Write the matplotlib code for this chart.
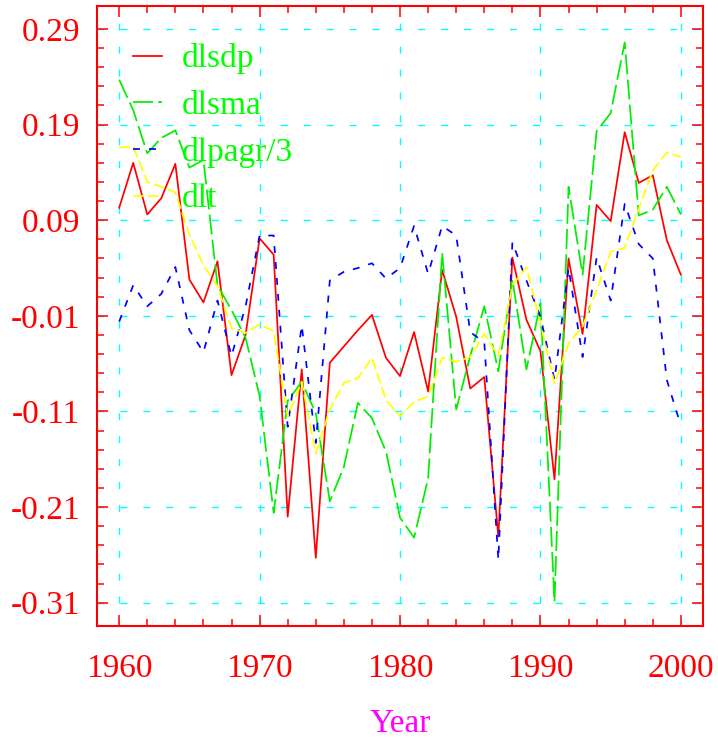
import numpy as np
import matplotlib
matplotlib.use("Agg")
import matplotlib.pyplot as plt
from matplotlib.ticker import FixedLocator

# data
years = np.arange(1960, 2001)

dlsdp = [0.103, 0.150, 0.096, 0.113, 0.149, 0.028, 0.004, 0.047, -0.072, -0.030,
         0.071, 0.054, -0.220, -0.066, -0.263, -0.059, -0.042, -0.025, -0.009, -0.054,
         -0.073, -0.027, -0.089, 0.038, -0.011, -0.086, -0.074, -0.241, 0.051, -0.014,
         -0.047, -0.181, 0.050, -0.029, 0.106, 0.089, 0.182, 0.129, 0.137, 0.069,
         0.033]

dlsma = [0.237, 0.205, 0.160, 0.176, 0.184, 0.145, 0.153, 0.022, -0.004, -0.033,
         -0.094, -0.216, -0.099, -0.079, -0.112, -0.204, -0.168, -0.101, -0.117, -0.152,
         -0.221, -0.242, -0.180, 0.056, -0.108, -0.052, 0.000, -0.068, 0.028, -0.066,
         0.003, -0.309, 0.125, 0.033, 0.183, 0.202, 0.276, 0.095, 0.101, 0.125,
         0.096]

dlpagr3 = [-0.016, 0.022, 0.000, 0.013, 0.041, -0.025, -0.048, 0.006, -0.052, 0.000,
           0.074, 0.074, -0.126, -0.020, -0.143, 0.027, 0.036, 0.040, 0.045, 0.029,
           0.040, 0.084, 0.034, 0.084, 0.074, -0.027, -0.038, -0.265, 0.067, 0.027,
           -0.011, -0.077, 0.040, -0.053, 0.051, 0.006, 0.107, 0.065, 0.050, -0.077,
           -0.125]

dlt = [0.166, 0.167, 0.130, 0.125, 0.119, 0.075, 0.043, 0.021, -0.023, -0.028,
       -0.019, -0.026, -0.115, -0.079, -0.154, -0.108, -0.080, -0.075, -0.054, -0.098,
       -0.115, -0.100, -0.094, -0.054, -0.058, -0.053, -0.029, -0.052, 0.022, 0.041,
       -0.018, -0.081, -0.039, -0.021, 0.017, 0.057, 0.061, 0.102, 0.142, 0.161,
       0.156]

xticks = [1960, 1970, 1980, 1990, 2000]
yticks = [-0.31, -0.21, -0.11, -0.01, 0.09, 0.19, 0.29]

plt.rcParams['font.family'] = ['Liberation Serif', 'DejaVu Serif']

fig = plt.figure(figsize=(7.18, 7.40), dpi=100)
ax = fig.add_axes([0.1347, 0.1545, 0.8449, 0.8374])

lw = 1.25
ax.plot(years, dlsdp, color='#ff0000', lw=lw, label='dlsdp')
ax.plot(years, dlsma, color='#00ee00', lw=lw, linestyle=(0, (11.5, 3)), label='dlsma')
ax.plot(years, dlpagr3, color='#0000ff', lw=lw, linestyle=(0, (4, 5.2)), label='dlpagr/3')
ax.plot(years, dlt, color='#ffff00', lw=lw, linestyle=(0, (6.2, 2.3)), label='dlt')

ax.set_xlim(1958.4, 2001.6)
ax.set_ylim(-0.334, 0.314)

ax.set_xticks(xticks)
ax.set_xticklabels([str(v) for v in xticks])
ax.set_yticks(yticks)
ax.set_yticklabels(['%.2f' % v for v in yticks])
ax.xaxis.set_minor_locator(FixedLocator(np.arange(1960, 2001, 2)))
ax.yaxis.set_minor_locator(FixedLocator(np.round(np.arange(-0.31, 0.30, 0.02), 2)))

ax.grid(True, which='major', color='#00ffff', linestyle=(0, (5, 11.5)), linewidth=1.0)

for sp in ax.spines.values():
    sp.set_color('#ff0000')
    sp.set_linewidth(1.5)

ax.tick_params(which='both', direction='in', top=True, right=True,
               color='#ff0000', width=1.1, labelcolor='#ff0000', labelsize=24)
ax.tick_params(which='major', length=8)
ax.tick_params(which='minor', length=5)
ax.tick_params(axis='x', which='major', pad=20)
ax.tick_params(axis='y', which='major', pad=12)

ax.set_xlabel('Year', color='#ff00ff', fontsize=24, labelpad=18)

leg = ax.legend(loc='upper left', bbox_to_anchor=(0.0593, 0.94), frameon=False,
                fontsize=24, labelcolor='#00ff00', handlelength=0.88,
                handletextpad=0.6, labelspacing=0.48, borderpad=0, borderaxespad=0)

fig.savefig('out.png', dpi=100)
